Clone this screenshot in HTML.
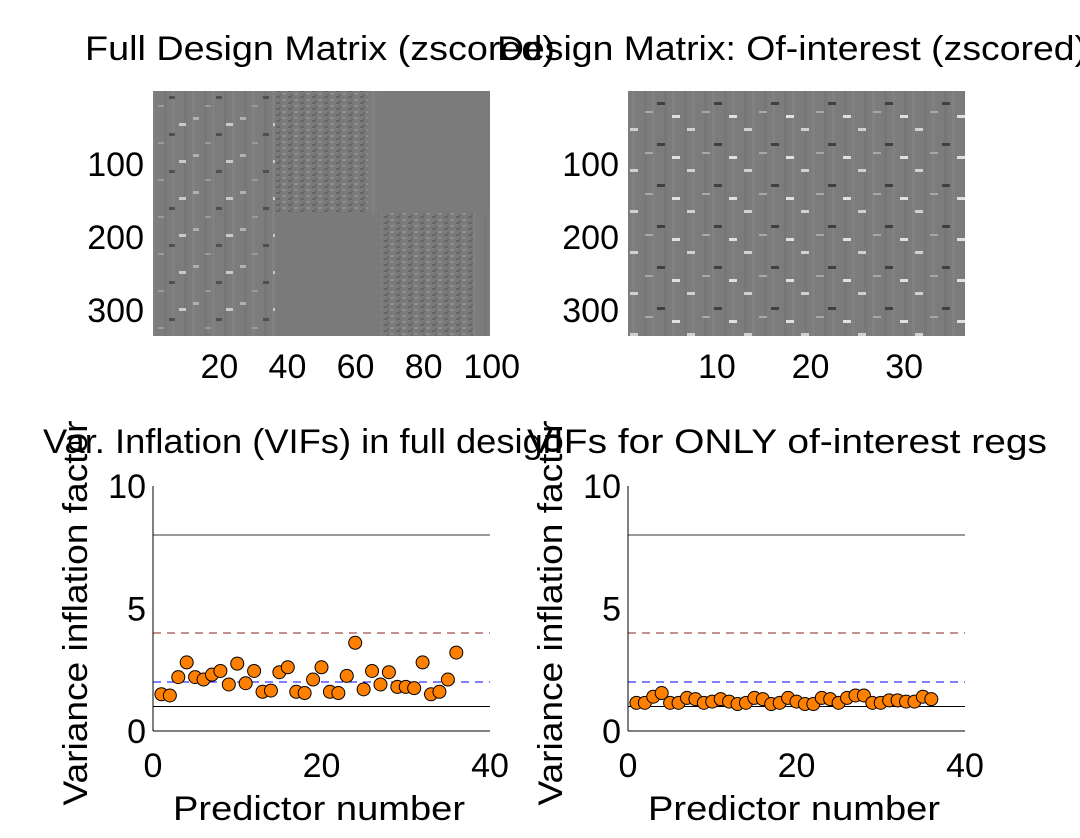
<!DOCTYPE html>
<html><head><meta charset="utf-8"><style>
body{margin:0;background:#fff;width:1080px;height:833px;overflow:hidden;font-family:"Liberation Sans",sans-serif}
</style></head><body>
<svg width="1080" height="833" style="font-family:'Liberation Sans',sans-serif">
<defs>
<pattern id="tex" width="12" height="6" patternUnits="userSpaceOnUse">
<rect width="12" height="6" fill="#7a7a7a"/><rect x="0" y="0" width="4" height="2" fill="#666"/><rect x="6" y="3" width="4" height="2" fill="#8e8e8e"/><rect x="3" y="4" width="2" height="2" fill="#6a6a6a"/>
</pattern>
<pattern id="cols" width="20" height="10" patternUnits="userSpaceOnUse">
<rect width="20" height="10" fill="#7c7c7c"/><rect x="4" width="3" height="10" fill="#777"/><rect x="12" width="3" height="10" fill="#818181"/>
</pattern>
<pattern id="dash1" width="47" height="37" patternUnits="userSpaceOnUse">
<rect x="5" y="6" width="6" height="3" fill="#b0b0b0"/><rect x="28" y="22" width="6" height="3" fill="#505050"/><rect x="38" y="12" width="7" height="3" fill="#c8c8c8"/><rect x="17" y="31" width="6" height="2" fill="#9a9a9a"/>
</pattern>
<pattern id="dash2" width="57" height="41" patternUnits="userSpaceOnUse">
<rect x="3" y="5" width="8" height="3" fill="#d0d0d0"/><rect x="30" y="20" width="8" height="3" fill="#404040"/><rect x="45" y="33" width="8" height="3" fill="#e0e0e0"/><rect x="18" y="29" width="8" height="2" fill="#a8a8a8"/>
</pattern>
</defs>
<g>
<rect x="153" y="91" width="337" height="245" fill="url(#cols)"/>
<rect x="153" y="91" width="122" height="245" fill="url(#dash1)"/>
<rect x="275" y="91" width="93" height="122" fill="url(#tex)"/>
<rect x="381" y="213" width="92" height="123" fill="url(#tex)"/>
<rect x="275" y="213" width="106" height="123" fill="#7a7a7a"/>
<rect x="381" y="91" width="109" height="122" fill="#7b7b7b"/>
</g>
<g>
<rect x="628" y="91" width="337" height="245" fill="url(#cols)"/>
<rect x="628" y="91" width="337" height="245" fill="url(#dash2)"/>
</g>
<g font-size="34" fill="#000">
<text x="85" y="60" textLength="470" lengthAdjust="spacingAndGlyphs">Full Design Matrix (zscored)</text>
<text x="497" y="60" textLength="590" lengthAdjust="spacingAndGlyphs">Design Matrix: Of-interest (zscored)</text>
<text x="43" y="453" textLength="520" lengthAdjust="spacingAndGlyphs">Var. Inflation (VIFs) in full design</text>
<text x="527" y="453" textLength="520" lengthAdjust="spacingAndGlyphs">VIFs for ONLY of-interest regs</text>
</g>
<g font-size="34" id="ticks"></g>
<g id="plots"></g>
</svg>
<script>
const NS="http://www.w3.org/2000/svg";
const vifFull=[1.5,1.45,2.2,2.8,2.2,2.1,2.3,2.45,1.9,2.75,1.95,2.45,1.6,1.65,2.4,2.6,1.6,1.55,2.1,2.6,1.6,1.55,2.25,3.6,1.7,2.45,1.9,2.4,1.8,1.8,1.75,2.8,1.5,1.6,2.1,3.2];
const vifInterest=[1.15,1.15,1.4,1.55,1.15,1.15,1.35,1.3,1.15,1.2,1.3,1.2,1.1,1.15,1.35,1.3,1.1,1.15,1.35,1.2,1.1,1.1,1.35,1.3,1.15,1.35,1.45,1.45,1.15,1.15,1.25,1.25,1.2,1.2,1.4,1.3];
const yTicks=[0,5,10];
const xTicks=[0,20,40];
const refLines=[{v:8,c:"#333",d:""},{v:4,c:"#8a2020",d:"8,6"},{v:2,c:"#0000ff",d:"8,6"},{v:1,c:"#000",d:""}];
const fullXTicks=[20,40,60,80,100], fullYTicks=[100,200,300];
const intXTicks=[10,20,30], intYTicks=[100,200,300];
function el(t,a,p){const e=document.createElementNS(NS,t);for(const k in a)e.setAttribute(k,a[k]);p.appendChild(e);return e;}
const root=document.getElementById('plots'), tk=document.getElementById('ticks');
function imgTicks(x0,colW,xt,yt){
  const rowH=245/335;
  xt.forEach(v=>{const t=el('text',{x:x0+(v-0.5)*colW,y:378,'text-anchor':'middle'},tk);t.textContent=v;
  
  });
  yt.forEach(v=>{const t=el('text',{x:x0-9,y:91+(v-0.5)*rowH+12,'text-anchor':'end'},tk);t.textContent=v;
  
  });
}
imgTicks(153,337/99,fullXTicks,fullYTicks);
imgTicks(628,337/36,intXTicks,intYTicks);
function vifPlot(x0,data,name){
  const y0=731,h=245,w=337;
  const sx=v=>x0+v/40*w, sy=v=>y0-v/10*h;
  const g=el('g',{},root);
  
  
  refLines.forEach(r=>{const l=el('line',{x1:x0,x2:x0+w,y1:sy(r.v),y2:sy(r.v),stroke:r.c,'stroke-width':1,'stroke-dasharray':r.d},g);
  
  });
  data.forEach((v,i)=>{const c=el('circle',{cx:sx(i+1),cy:sy(v),r:6.5,fill:'#ff8000',stroke:'#000','stroke-width':1},g);
  
  });
  el('line',{x1:x0,x2:x0,y1:y0-h,y2:y0,stroke:'#000','stroke-width':1},g);
  el('line',{x1:x0,x2:x0+w,y1:y0,y2:y0,stroke:'#000','stroke-width':1},g);
  yTicks.forEach(v=>{const t=el('text',{x:x0-7,y:sy(v)+12,'text-anchor':'end','font-size':34},g);t.textContent=v;
  
  });
  xTicks.forEach(v=>{const t=el('text',{x:sx(v),y:777,'text-anchor':'middle','font-size':34},g);t.textContent=v;
  
  });
  const xl=el('text',{x:x0+20,y:820,'font-size':34,textLength:292,lengthAdjust:'spacingAndGlyphs'},g);xl.textContent='Predictor number';
  
  
  const yl=el('text',{x:0,y:0,'text-anchor':'middle','font-size':34,textLength:385,lengthAdjust:'spacingAndGlyphs',transform:`translate(${x0-66},613) rotate(-90)`},g);yl.textContent='Variance inflation factor';
  
  
}
vifPlot(153,vifFull,'vif-full-plot');
vifPlot(628,vifInterest,'vif-interest-plot');
</script>
</body></html>
